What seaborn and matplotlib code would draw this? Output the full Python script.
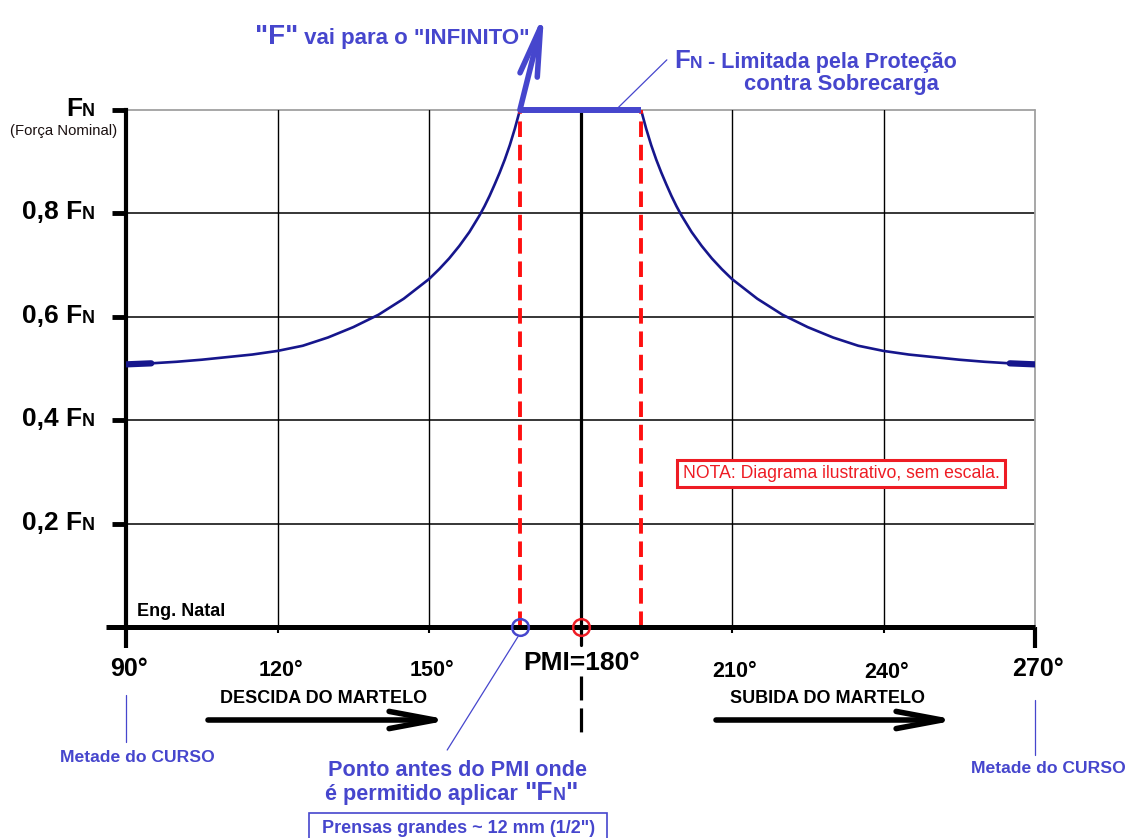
import numpy as np
import pandas as pd
import matplotlib
matplotlib.use("Agg")
import matplotlib.pyplot as plt
import matplotlib.patches as mpatches
import seaborn as sns

sns.set_theme(style="white")
plt.rcParams['font.family'] = ['Liberation Sans', 'DejaVu Sans']

# ===============================
# DADOS (lidos do diagrama)
# ===============================
ang_descida = [90, 95, 100, 105, 110, 115, 120, 125, 130, 135, 140, 145, 150,
               152, 154, 156, 158, 160, 161, 162, 163, 164, 165, 166, 166.5,
               167, 167.5, 168]
f_descida = [0.508, 0.510, 0.513, 0.517, 0.522, 0.527, 0.534, 0.544, 0.560,
             0.580, 0.604, 0.635, 0.673, 0.692, 0.713, 0.737, 0.764, 0.796,
             0.814, 0.834, 0.856, 0.879, 0.904, 0.932, 0.948, 0.964, 0.982,
             1.0]

ang_subida = [192, 192.5, 193, 193.5, 194, 195, 196, 197, 198, 199, 200, 202,
              204, 206, 208, 210, 215, 220, 225, 230, 235, 240, 245, 250, 255,
              260, 265, 270]
f_subida = [1.0, 0.982, 0.964, 0.948, 0.932, 0.904, 0.879, 0.856, 0.834,
            0.814, 0.796, 0.764, 0.737, 0.713, 0.692, 0.673, 0.635, 0.604,
            0.580, 0.560, 0.544, 0.534, 0.527, 0.522, 0.517, 0.513, 0.510,
            0.508]

ang_patamar_esq = [90, 95]
f_patamar_esq = [0.508, 0.510]
ang_patamar_dir = [265, 270]
f_patamar_dir = [0.510, 0.508]

ang_limite = [168, 192]          # faixa onde F = FN
f_limite = [1.0, 1.0]
ang_pmi = 180
ang_ponto = 168

y_ticks = [0.2, 0.4, 0.6, 0.8]
y_labels = ["0,2 F", "0,4 F", "0,6 F", "0,8 F"]
x_grid = [120, 150, 210, 240]
x_labels = {90: "90°", 120: "120°", 150: "150°", 210: "210°", 240: "240°", 270: "270°"}

# cores
AZUL = "#4646cd"
MARINHO = "#16168c"
VERMELHO = "#ee1c24"

W, H = 1135, 838
fig = plt.figure(figsize=(W / 100, H / 100), dpi=100)
ax = fig.add_axes([126 / W, 1 - 627 / H, (1035 - 126) / W, (627 - 110) / H])


def fx(px):
    return px / W


def fy(py):
    return 1 - py / H


def py_of(v):
    return 627 - v * 517


ax.set_xlim(90, 270)
ax.set_ylim(0, 1)

# ===============================
# GRADE
# ===============================
for v in y_ticks:
    ax.axhline(v, color="black", lw=1.1, zorder=1)
ax.axhline(1.0, color="#a0a0a0", lw=1.3, zorder=1, clip_on=False)
for a in x_grid:
    ax.axvline(a, color="black", lw=1.0, zorder=1)
ax.axvline(270, color="#a0a0a0", lw=1.3, zorder=1, clip_on=False)

# PMI
ax.plot([ang_pmi, ang_pmi], [0, 1], color="black", lw=2.3, zorder=2)
ax.plot([ang_pmi, ang_pmi], [0, -0.035], color="black", lw=2.3,
        clip_on=False, zorder=2)
ax.plot([ang_pmi, ang_pmi], [-0.095, -0.203], color="black", lw=2.3,
        dashes=(7.5, 2.5), clip_on=False, zorder=2)

# ===============================
# CURVA
# ===============================
sns.lineplot(x=ang_descida, y=f_descida, color=MARINHO, lw=1.9, ax=ax, zorder=3)
sns.lineplot(x=ang_subida, y=f_subida, color=MARINHO, lw=1.9, ax=ax, zorder=3)
sns.lineplot(x=ang_patamar_esq, y=f_patamar_esq, color=MARINHO, lw=4.5, ax=ax, zorder=3)
sns.lineplot(x=ang_patamar_dir, y=f_patamar_dir, color=MARINHO, lw=4.5, ax=ax, zorder=3)

for a in ang_limite:
    ax.plot([a, a], [0, 1], color="#ff1010", lw=2.8, dashes=(4, 2), zorder=4)

ax.plot(ang_limite, f_limite, color=AZUL, lw=4.3, solid_capstyle="butt",
        clip_on=False, zorder=5)

# seta "F" -> infinito
ax.annotate("", xy=(172.8, 1.188), xytext=(ang_limite[0], 1.0), xycoords="data",
            arrowprops=dict(arrowstyle="->,head_length=1.75,head_width=0.32",
                            lw=4, color=AZUL, shrinkA=0, shrinkB=0,
                            mutation_scale=20),
            annotation_clip=False, zorder=6)

# circulos
ax.plot(ang_ponto, 0, "o", mfc="none", mec=AZUL, mew=1.8, ms=12, clip_on=False, zorder=7)
ax.plot(ang_pmi, 0, "o", mfc="none", mec=VERMELHO, mew=1.8, ms=12, clip_on=False, zorder=7)

# ===============================
# EIXOS
# ===============================
for s in ["top", "right", "bottom"]:
    ax.spines[s].set_visible(False)
ax.spines["left"].set_linewidth(3)
ax.spines["left"].set_color("black")
ax.plot([86, 270], [0, 0], color="black", lw=3.6, clip_on=False, zorder=5,
        solid_capstyle="butt")

ax.set_yticks(y_ticks + [1.0])
ax.set_yticklabels([])
ax.tick_params(axis="y", length=10, width=3.5, color="black", direction="out", left=True)
ax.set_xticks([90, 270])
ax.set_xticks(x_grid, minor=True)
ax.set_xticklabels([])
ax.tick_params(axis="x", which="major", length=15, width=3, color="black", bottom=True)
ax.tick_params(axis="x", which="minor", length=4, width=1.5, color="black", bottom=True)
ax.set_xlabel("")
ax.set_ylabel("")


def chain(prev, s, size, color, py, weight="bold"):
    return ax.annotate(s, xy=(1, fy(py)), xycoords=(prev, "figure fraction"),
                       ha="left", va="baseline", fontsize=size, color=color,
                       fontweight=weight, annotation_clip=False)


# rotulos do eixo Y
for v, lab in zip(y_ticks, y_labels):
    b = py_of(v) + 6
    t = fig.text(fx(82), fy(b), lab, ha="right", va="baseline", fontsize=19,
                 fontweight="bold", color="black")
    chain(t, "N", 13, "black", b)

t = fig.text(fx(82), fy(116), "F", ha="right", va="baseline", fontsize=19,
             fontweight="bold", color="black")
chain(t, "N", 13, "black", 116)
fig.text(fx(10), fy(135), "(Força Nominal)", ha="left", va="baseline",
         fontsize=10.7, color="#1a1010")

# rotulos do eixo X
x_base = {90: 676, 120: 676, 150: 676, 210: 677, 240: 678, 270: 676}
x_size = {90: 18, 120: 15.5, 150: 15.5, 210: 15.5, 240: 15.5, 270: 18}
for a, lab in x_labels.items():
    xpix = 126 + (a - 90) * 5.05 + 3
    fig.text(fx(xpix), fy(x_base[a]), lab, ha="center", va="baseline",
             fontsize=x_size[a], fontweight="bold", color="black")
fig.text(fx(582), fy(670), "PMI=180°", ha="center", va="baseline",
         fontsize=19, fontweight="bold", color="black")

fig.text(fx(137), fy(616), "Eng. Natal", ha="left", va="baseline",
         fontsize=13, fontweight="bold", color="black")

# descida / subida
fig.text(fx(324), fy(703), "DESCIDA DO MARTELO", ha="center", va="baseline",
         fontsize=13, fontweight="bold", color="black")
fig.text(fx(827), fy(703), "SUBIDA DO MARTELO", ha="center", va="baseline",
         fontsize=13, fontweight="bold", color="black")
for x0, x1 in [(208, 450), (716, 957)]:
    ax.annotate("", xy=(fx(x1), fy(720)), xytext=(fx(x0), fy(720)),
                xycoords="figure fraction",
                arrowprops=dict(arrowstyle="->,head_length=1.65,head_width=0.31",
                                lw=4, color="black", shrinkA=0, shrinkB=0,
                                mutation_scale=20),
                annotation_clip=False)

# metade do curso
ax.plot([90, 90], [-0.132, -0.222], color=AZUL, lw=0.9, clip_on=False)
ax.plot([270, 270], [-0.141, -0.248], color=AZUL, lw=0.9, clip_on=False)
fig.text(fx(137), fy(762), "Metade do CURSO", ha="center", va="baseline",
         fontsize=12.6, fontweight="bold", color=AZUL)
fig.text(fx(1048), fy(773), "Metade do CURSO", ha="center", va="baseline",
         fontsize=12.6, fontweight="bold", color=AZUL)

# ponto antes do PMI
ax.plot([167.6, 153.6], [-0.019, -0.238], color=AZUL, lw=0.9, clip_on=False)
fig.text(fx(457), fy(776), "Ponto antes do PMI onde", ha="center", va="baseline",
         fontsize=15.6, fontweight="bold", color=AZUL)
t = fig.text(fx(325), fy(800), "é permitido aplicar ", ha="left", va="baseline",
             fontsize=15.6, fontweight="bold", color=AZUL)
t = chain(t, '"F', 19, AZUL, 800)
t = chain(t, "N", 13, AZUL, 800)
chain(t, '"', 19, AZUL, 800)

fig.patches.append(mpatches.Rectangle((fx(309), fy(845)), fx(607) - fx(309),
                                      fy(813) - fy(845), fill=False,
                                      ec=AZUL, lw=1.2, transform=fig.transFigure))
fig.text(fx(459), fy(833), 'Prensas grandes ~ 12 mm (1/2")', ha="center",
         va="baseline", fontsize=13, fontweight="bold", color=AZUL)

# FN limitada
ax.plot([187.4, 197.1], [1.004, 1.097], color=AZUL, lw=0.9, clip_on=False)
t = fig.text(fx(674), fy(68), "F", ha="left", va="baseline", fontsize=18.5,
             fontweight="bold", color=AZUL)
t = chain(t, "N", 12.5, AZUL, 68)
chain(t, " - Limitada pela Proteção", 15.5, AZUL, 68)
fig.text(fx(744), fy(90), "contra Sobrecarga", ha="left", va="baseline",
         fontsize=15.8, fontweight="bold", color=AZUL)

# "F" vai para o "INFINITO"
t = fig.text(fx(255), fy(44), '"F"', ha="left", va="baseline", fontsize=20,
             fontweight="bold", color=AZUL)
chain(t, ' vai para o "INFINITO"', 16, AZUL, 44)

# nota
fig.text(fx(841), fy(478), "NOTA: Diagrama ilustrativo, sem escala.", ha="center",
         va="baseline", fontsize=12.7, color=VERMELHO,
         bbox=dict(boxstyle="square,pad=0.3", fc="white", ec=VERMELHO, lw=2.2))

fig.savefig("out.png", dpi=100)
